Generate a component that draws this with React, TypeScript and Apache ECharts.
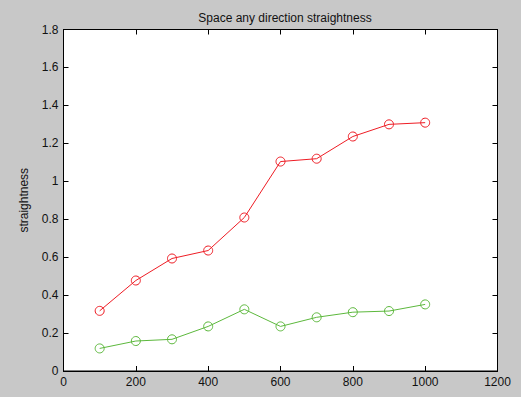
import React, { useEffect, useRef } from "react";
import * as echarts from "echarts";

const xValues = [100, 200, 300, 400, 500, 600, 700, 800, 900, 1000];
const redSeries = [0.317, 0.477, 0.593, 0.635, 0.809, 1.104, 1.119, 1.236, 1.3, 1.309];
const greenSeries = [0.119, 0.158, 0.167, 0.235, 0.325, 0.235, 0.283, 0.31, 0.316, 0.351];
const titleText = "Space any direction straightness";
const xName = "length";
const yName = "straightness";

const font = "'Liberation Sans', Arial, sans-serif";

export default function App() {
  const ref = useRef<HTMLDivElement>(null);
  useEffect(() => {
    if (!ref.current) return;
    const chart = echarts.init(ref.current, undefined, { renderer: "svg" });
    const axisLine = { show: true, onZero: false, lineStyle: { color: "#000", width: 1 } };
    const axisTick = { show: true, inside: true, length: 5, lineStyle: { color: "#000", width: 1 } };
    const labelStyle = { color: "#111", fontSize: 12, fontFamily: font };
    chart.setOption({
      animation: false,
      backgroundColor: "#c8c8c8",
      title: {
        text: titleText,
        left: 280,
        top: 7,
        textAlign: "center",
        textStyle: { color: "#111", fontSize: 12, fontWeight: "normal", fontFamily: font },
      },
      grid: {
        left: 63.5,
        right: 23.5,
        top: 29.5,
        bottom: 26,
        containLabel: false,
        outerBoundsMode: "none",
        show: true,
        backgroundColor: "#fff",
        borderColor: "#000",
        borderWidth: 1,
      },
      xAxis: [
        {
          type: "value",
          min: 0,
          max: 1200,
          interval: 200,
          position: "bottom",
          name: xName,
          nameLocation: "middle",
          nameGap: 28,
          nameTextStyle: labelStyle,
          axisLabel: { ...labelStyle, margin: 5, formatter: (v: number) => String(v) },
          axisLine,
          axisTick,
          splitLine: { show: false },
        },
        {
          type: "value",
          min: 0,
          max: 1200,
          interval: 200,
          position: "top",
          axisLabel: { show: false },
          axisLine,
          axisTick,
          splitLine: { show: false },
        },
      ],
      yAxis: [
        {
          type: "value",
          min: 0,
          max: 1.8,
          interval: 0.2,
          position: "left",
          name: yName,
          nameLocation: "middle",
          nameGap: 34,
          nameTextStyle: labelStyle,
          axisLabel: {
            ...labelStyle,
            margin: 5,
            formatter: (v: number) => String(Math.round(v * 10) / 10),
          },
          axisLine,
          axisTick,
          splitLine: { show: false },
        },
        {
          type: "value",
          min: 0,
          max: 1.8,
          interval: 0.2,
          position: "right",
          axisLabel: { show: false },
          axisLine,
          axisTick,
          splitLine: { show: false },
        },
      ],
      series: [
        {
          type: "line",
          data: xValues.map((x, i) => [x, redSeries[i]]),
          symbol: "circle",
          symbolSize: 9,
          showSymbol: true,
          itemStyle: { color: "rgba(255,255,255,0)", borderColor: "#ee1c24", borderWidth: 1 },
          lineStyle: { color: "#ee1c24", width: 1 },
          z: 3,
        },
        {
          type: "line",
          data: xValues.map((x, i) => [x, greenSeries[i]]),
          symbol: "circle",
          symbolSize: 9,
          showSymbol: true,
          itemStyle: { color: "rgba(255,255,255,0)", borderColor: "#5cb83c", borderWidth: 1 },
          lineStyle: { color: "#5cb83c", width: 1 },
          z: 3,
        },
      ],
    });
    return () => chart.dispose();
  }, []);
  return (
    <div
      ref={ref}
      style={{ position: "fixed", left: 0, top: 0, width: 521, height: 397 }}
    />
  );
}
